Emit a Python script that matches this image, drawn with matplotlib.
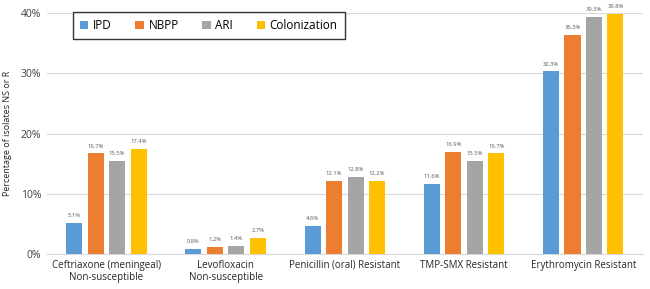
import matplotlib
matplotlib.use("Agg")
import matplotlib.pyplot as plt
import numpy as np

categories = ["Ceftriaxone (meningeal)\nNon-susceptible", "Levofloxacin\nNon-susceptible",
              "Penicillin (oral) Resistant", "TMP-SMX Resistant", "Erythromycin Resistant"]
series_names = ["IPD", "NBPP", "ARI", "Colonization"]
ipd = [5.1, 0.8, 4.6, 11.6, 30.3]
nbpp = [16.7, 1.2, 12.1, 16.9, 36.3]
ari = [15.5, 1.4, 12.8, 15.5, 39.3]
colonization = [17.4, 2.7, 12.2, 16.7, 39.8]
yticks = [0, 10, 20, 30, 40]

colors = ["#5B9BD5", "#ED7D31", "#A5A5A5", "#FFC000"]
plt.rcParams['font.family'] = ['Open Sans', 'DejaVu Sans']

fig = plt.figure(figsize=(6.5, 2.89), dpi=100)
ax = fig.add_axes([0.072, 0.121, 0.917, 0.834])

x = np.arange(len(categories))
spacing = 0.18
width = 0.135
for i, (name, vals) in enumerate(zip(series_names, [ipd, nbpp, ari, colonization])):
    pos = x + (i - 1.5) * spacing
    ax.bar(pos, vals, width, color=colors[i], label=name, zorder=3)
    for p, v in zip(pos, vals):
        ax.text(p, v + 0.8, f"{v:.1f}%", ha="center", va="bottom", fontsize=4.2, color="#595959")

ax.set_xlim(-0.5, len(categories) - 0.5)
ax.set_ylim(0, 40)
ax.set_yticks(yticks)
ax.set_yticklabels([f"{t}%" for t in yticks], fontsize=7.5, color="#404040")
ax.set_xticks(x)
ax.set_xticklabels(categories, fontsize=7, color="#262626")
ax.tick_params(axis="both", length=0, pad=4)
ax.yaxis.grid(True, color="#D9D9D9", linewidth=0.8, zorder=0)
for s in ["top", "right", "left"]:
    ax.spines[s].set_visible(False)
ax.spines["bottom"].set_color("#D9D9D9")
ax.set_ylabel("Percentage of isolates NS or R", fontsize=6.5, color="#262626", labelpad=6)

leg = ax.legend(loc="upper left", bbox_to_anchor=(0.044, 1.005), ncol=4, fontsize=8.5,
                frameon=True, fancybox=False, edgecolor="black", handlelength=0.7,
                handleheight=0.7, columnspacing=2.0, handletextpad=0.4,
                borderpad=0.6, borderaxespad=0)
leg.get_frame().set_linewidth(1.0)

fig.savefig("out.png", dpi=100)
